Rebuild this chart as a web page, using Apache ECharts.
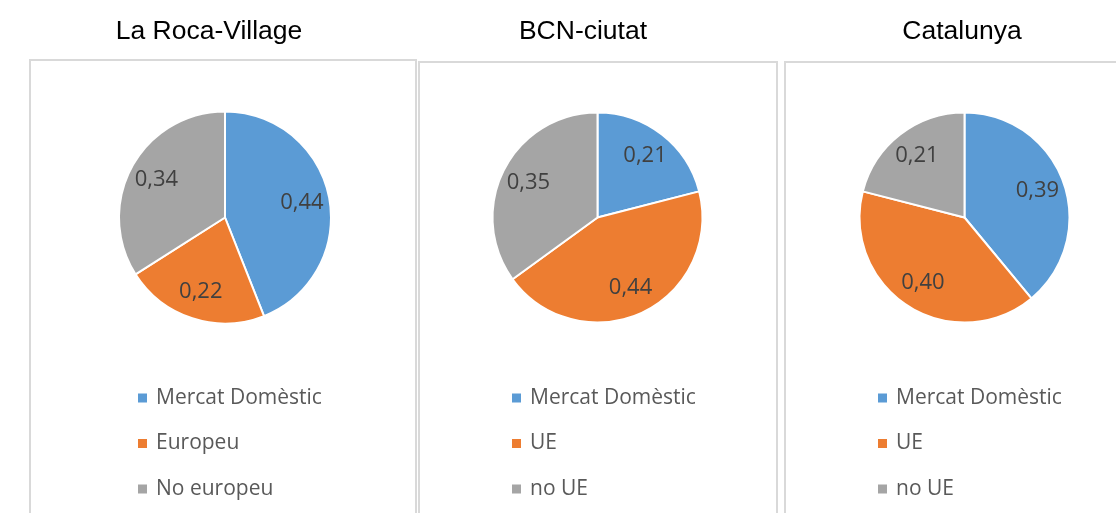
<!DOCTYPE html>
<html>
<head>
<meta charset="utf-8">
<script src="https://cdn.jsdelivr.net/npm/echarts@6/dist/echarts.min.js"></script>
<style>
  html, body { margin: 0; padding: 0; background: #fff; }
  #chart { width: 1116px; height: 513px; }
</style>
</head>
<body>
<div id="chart"></div>
<script>
// titles of the three panels
const panelTitles = ['La Roca-Village', 'BCN-ciutat', 'Catalunya'];

// categories per panel
const rocaNames = ['Mercat Domèstic', 'Europeu', 'No europeu'];
const bcnNames = ['Mercat Domèstic', 'UE', 'no UE'];
const catNames = ['Mercat Domèstic', 'UE', 'no UE'];

// shares per panel
const rocaValues = [0.44, 0.22, 0.34];
const bcnValues = [0.21, 0.44, 0.35];
const catValues = [0.39, 0.40, 0.21];

const colors = ['#5B9BD5', '#ED7D31', '#A5A5A5'];

// layout of each panel
const panels = [
  { names: rocaNames, values: rocaValues, titleX: 204, center: [225, 217.5], r: 106, legendX: 138, box: [30, 60, 386] },
  { names: bcnNames, values: bcnValues, titleX: 578, center: [597.5, 217.5], r: 105, legendX: 512, box: [419, 62, 358] },
  { names: catNames, values: catValues, titleX: 957, center: [964.5, 217.5], r: 105, legendX: 878, box: [785, 62, 360] }
];

// slice colour follows the position in the list (blue, orange, grey)
const toData = (names, values, withColor) => names.map((n, i) => {
  const item = { name: n, value: values[i] };
  if (withColor) item.itemStyle = { color: colors[i] };
  return item;
});

const title = [];
const legend = [];
const series = [];
const graphic = [];

panels.forEach((p, idx) => {
  graphic.push({
    type: 'rect',
    z: -1,
    shape: { x: p.box[0], y: p.box[1], width: p.box[2], height: 500 },
    style: { fill: 'none', stroke: '#D9D9D9', lineWidth: 2 }
  });

  title.push({
    text: panelTitles[idx],
    left: p.titleX,
    top: 13,
    textAlign: 'center',
    textStyle: {
      fontFamily: 'Liberation Sans, Arial',
      fontSize: 26.5,
      fontWeight: 'normal',
      color: '#000'
    }
  });

  legend.push({
    orient: 'vertical',
    left: p.legendX,
    top: 387,
    padding: 0,
    data: p.names,
    icon: 'rect',
    itemWidth: 9,
    itemHeight: 9,
    itemGap: 23.5,
    selectedMode: false,
    itemStyle: { borderWidth: 0 },
    textStyle: {
      fontFamily: 'Open Sans',
      fontSize: 21,
      lineHeight: 22,
      color: '#595959',
      padding: [0, 0, 0, 4]
    }
  });

  // the slices
  series.push({
    type: 'pie',
    center: p.center,
    radius: [0, p.r],
    startAngle: 90,
    clockwise: true,
    animation: false,
    silent: true,
    itemStyle: { borderColor: '#fff', borderWidth: 2 },
    label: { show: false },
    labelLine: { show: false },
    data: toData(p.names, p.values, true)
  });

  // transparent ring only used to place value labels further out
  series.push({
    type: 'pie',
    center: p.center,
    radius: [p.r * 0.42, p.r],
    startAngle: 90,
    clockwise: true,
    animation: false,
    silent: true,
    legendHoverLink: false,
    itemStyle: { color: 'rgba(0,0,0,0)', borderWidth: 0 },
    label: {
      show: true,
      position: 'inside',
      fontFamily: 'Open Sans',
      fontSize: 22,
      color: '#404040',
      formatter: (d) => d.value.toFixed(2).replace('.', ',')
    },
    labelLine: { show: false },
    data: toData(p.names, p.values, false)
  });
});

const chart = echarts.init(document.getElementById('chart'));
chart.setOption({
  backgroundColor: '#fff',
  animation: false,
  title: title,
  legend: legend,
  graphic: graphic,
  series: series
});
</script>
</body>
</html>
